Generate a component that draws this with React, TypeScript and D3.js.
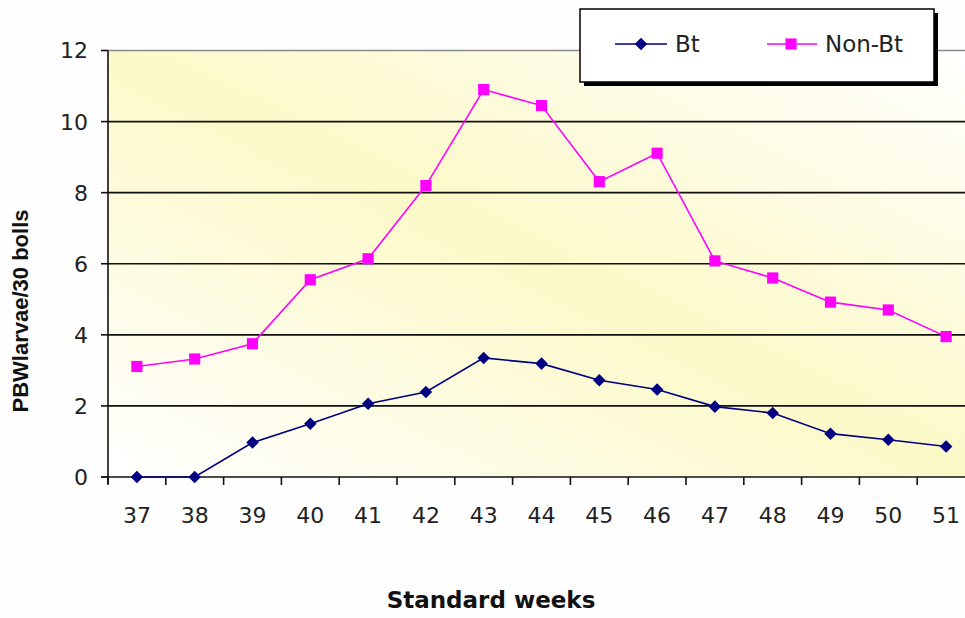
import React from "react";
import * as d3 from "d3";

// Standard weeks and PBW larvae counts per 30 bolls
const weeks: string[] = ["37", "38", "39", "40", "41", "42", "43", "44", "45", "46", "47", "48", "49", "50", "51"];
const btValues: number[] = [0, 0, 0.97, 1.5, 2.06, 2.39, 3.35, 3.19, 2.72, 2.46, 1.98, 1.8, 1.22, 1.05, 0.86];
const nonBtValues: number[] = [3.11, 3.32, 3.75, 5.55, 6.14, 8.2, 10.9, 10.45, 8.31, 9.11, 6.08, 5.6, 4.92, 4.7, 3.95];
const yTicks: number[] = [0, 2, 4, 6, 8, 10, 12];
const seriesNames: string[] = ["Bt", "Non-Bt"];

const W = 965;
const H = 618;
const plot = { left: 108, top: 50.5, right: 975, bottom: 477 };

export default function App() {
  const x = d3.scaleBand<string>().domain(weeks).range([plot.left, plot.right]).paddingInner(0).paddingOuter(0);
  const y = d3.scaleLinear().domain([0, 12]).range([plot.bottom, plot.top]);
  const cx = (w: string) => (x(w) as number) + x.bandwidth() / 2;

  const line = d3
    .line<number>()
    .x((_, i) => cx(weeks[i]))
    .y((v) => y(v));

  const diamond = d3.symbol().type(d3.symbolDiamond2).size(100)();
  const square = d3.symbol().type(d3.symbolSquare).size(125)();

  const tickFont = "'DejaVu Sans', Verdana, sans-serif";
  const boundaries = weeks.map((w) => x(w) as number).concat([plot.right]);

  return (
    <svg
      width={W}
      height={H}
      style={{ position: "absolute", left: 0, top: 0, display: "block", background: "#fefefe" }}
    >
      <defs>
        <linearGradient id="plotFill" x1="0" y1="1" x2="1" y2="0">
          <stop offset="0" stopColor="#ffffff" />
          <stop offset="0.5" stopColor="#fcf9c8" />
          <stop offset="1" stopColor="#ffffff" />
        </linearGradient>
      </defs>

      {/* plot area */}
      <rect
        x={plot.left}
        y={plot.top}
        width={plot.right - plot.left}
        height={plot.bottom - plot.top}
        fill="url(#plotFill)"
      />
      <line x1={plot.left} x2={plot.right} y1={plot.top} y2={plot.top} stroke="#8a8a8a" strokeWidth={1.5} />

      {/* horizontal gridlines */}
      {yTicks
        .filter((t) => t > 0 && t < 12)
        .map((t) => (
          <line key={t} x1={plot.left} x2={plot.right} y1={y(t)} y2={y(t)} stroke="#111" strokeWidth={1.6} />
        ))}

      {/* y axis */}
      <line x1={plot.left} x2={plot.left} y1={plot.top} y2={plot.bottom + 7} stroke="#111" strokeWidth={1.6} />
      {yTicks.map((t) => (
        <g key={t}>
          <line x1={plot.left - 7} x2={plot.left} y1={y(t)} y2={y(t)} stroke="#111" strokeWidth={1.6} />
          <text
            x={88}
            y={y(t)}
            dy="0.36em"
            textAnchor="end"
            fontFamily={tickFont}
            fontSize={22}
            fill="#222"
          >
            {t}
          </text>
        </g>
      ))}

      {/* x axis */}
      <line x1={plot.left - 7} x2={plot.right} y1={plot.bottom} y2={plot.bottom} stroke="#111" strokeWidth={1.6} />
      {boundaries.map((b, i) => (
        <line key={i} x1={b} x2={b} y1={plot.bottom} y2={plot.bottom + 8} stroke="#111" strokeWidth={1.6} />
      ))}
      {weeks.map((w) => (
        <text key={w} x={cx(w)} y={523} textAnchor="middle" fontFamily={tickFont} fontSize={22} fill="#222">
          {w}
        </text>
      ))}

      {/* axis titles */}
      <text x={491} y={608} textAnchor="middle" fontFamily={tickFont} fontWeight="bold" fontSize={23} fill="#111">
        Standard weeks
      </text>
      <text
        transform="translate(28,311) rotate(-90)"
        textAnchor="middle"
        fontFamily="'Liberation Sans', Arial, sans-serif"
        fontWeight="bold"
        fontSize={22}
        fill="#111"
      >
        PBWlarvae/30 bolls
      </text>

      {/* series */}
      <path d={line(nonBtValues) || ""} fill="none" stroke="#ff00ff" strokeWidth={1.6} />
      <path d={line(btValues) || ""} fill="none" stroke="#000080" strokeWidth={1.6} />
      {nonBtValues.map((v, i) => (
        <path key={"n" + i} d={square || ""} transform={`translate(${cx(weeks[i])},${y(v)})`} fill="#ff00ff" />
      ))}
      {btValues.map((v, i) => (
        <path key={"b" + i} d={diamond || ""} transform={`translate(${cx(weeks[i])},${y(v)})`} fill="#000080" />
      ))}

      {/* legend */}
      <g>
        <rect x={584} y={13} width={354} height={73} fill="#000" />
        <rect x={580} y={9} width={354} height={73} fill="#fff" stroke="#000" strokeWidth={1.5} />
        <line x1={615} x2={667} y1={44} y2={44} stroke="#000080" strokeWidth={1.6} />
        <path d={diamond || ""} transform="translate(641,44)" fill="#000080" />
        <text x={675} y={52} fontFamily={tickFont} fontSize={23} fill="#222">
          {seriesNames[0]}
        </text>
        <line x1={767} x2={817} y1={44} y2={44} stroke="#ff00ff" strokeWidth={1.6} />
        <path d={square || ""} transform="translate(791,44)" fill="#ff00ff" />
        <text x={825} y={52} fontFamily={tickFont} fontSize={23} fill="#222">
          {seriesNames[1]}
        </text>
      </g>
    </svg>
  );
}
